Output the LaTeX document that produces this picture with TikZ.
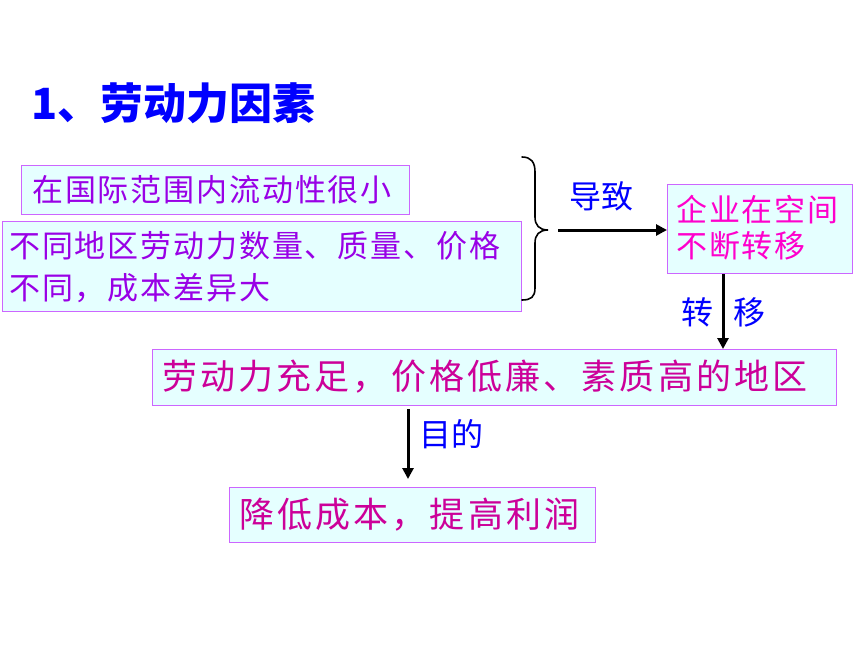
\documentclass[tikz,border=0pt]{standalone}
\usepackage{fontspec}
\usetikzlibrary{arrows.meta,calc}
\newfontfamily\cjk{Noto Sans CJK SC}
\newfontfamily\cjksp[LetterSpace=6]{Noto Sans CJK SC}
\newfontfamily\cjkspb[LetterSpace=9]{Noto Sans CJK SC}
\definecolor{boxfill}{RGB}{229,255,255}
\definecolor{boxline}{RGB}{204,102,255}
\definecolor{txtpurple}{RGB}{153,0,230}
\definecolor{txtpink}{RGB}{255,0,204}
\definecolor{txtmag}{RGB}{204,0,153}
\definecolor{lblblue}{RGB}{0,0,255}
\tikzset{
  box/.style={draw=boxline, fill=boxfill, line width=1pt, rectangle, inner xsep=0pt, inner ysep=0pt, align=left, anchor=north west},
  small/.style={font=\cjksp\fontsize{31pt}{42pt}\selectfont},
  big/.style={font=\cjkspb\fontsize{35pt}{42pt}\selectfont},
  lbl/.style={font=\cjk\fontsize{32pt}{34pt}\selectfont, text=lblblue, inner sep=0pt},
  arr/.style={line width=3pt, -{Triangle[length=11pt,width=11pt]}},
}
\begin{document}
\begin{tikzpicture}[x=1pt,y=-1pt]
\useasboundingbox (0,0) rectangle (860,645);
\fill[white] (0,0) rectangle (860,645);

\node[anchor=west, inner sep=0pt, text=lblblue, font=\cjk\bfseries\fontsize{43pt}{46pt}\selectfont] (title) at (31,103) {1、劳动力因素};

% box 1
\node[box, minimum width=388pt, minimum height=49pt] (b1) at (21,165) {};
\node[small, text=txtpurple, anchor=west, inner sep=0pt] (t1) at (32,189.5) {在国际范围内流动性很小};

% box 2
\node[box, minimum width=519pt, minimum height=90pt] (b2) at (2,221) {};
\node[small, text=txtpurple, anchor=west, inner sep=0pt] (t2a) at (9,246) {不同地区劳动力数量、质量、价格};
\node[small, text=txtpurple, anchor=west, inner sep=0pt] (t2b) at (9,288) {不同，成本差异大};

% brace
\draw[line width=1.6pt, line cap=round] (522,157) .. controls (531,157) and (535,162) .. (535,172)
  -- (535,217) .. controls (535,225) and (539,230) .. (548,230)
  .. controls (539,230) and (535,235) .. (535,243)
  -- (535,288) .. controls (535,297) and (531,300) .. (522,300);
\coordinate (bt) at (558,230);

% box 3
\node[box, minimum width=185pt, minimum height=89pt] (b3) at (667,184) {};
\node[small, text=txtpink, anchor=west, inner sep=0pt] (t3a) at (676,210) {企业在空间};
\node[small, text=txtpink, anchor=west, inner sep=0pt] (t3b) at (676,246) {不断转移};

\draw[arr] (bt) -- (bt -| b3.west);
\node[lbl] (l1) at (601,196) {导致};

% box 4
\node[box, minimum width=684pt, minimum height=56pt] (b4) at (152,349) {};
\node[big, text=txtmag, anchor=west, inner sep=0pt] (t4) at (162,377) {劳动力充足，价格低廉、素质高的地区};

\coordinate (s2) at ([xshift=56pt]b3.south west);
\draw[arr] (s2) -- (s2 |- b4.north);
\node[lbl] (l2) at (697,312) {转};
\node[lbl] (l3) at (749,312) {移};

% box 5
\node[box, minimum width=366pt, minimum height=55pt] (b5) at (229,487) {};
\node[big, text=txtmag, anchor=west, inner sep=0pt] (t5) at (239,514.5) {降低成本，提高利润};

\coordinate (s3) at ([xshift=256pt]b4.south west);
\draw[arr, shorten <=3pt, shorten >=8pt] (s3) -- (s3 |- b5.north);
\node[lbl] (l4) at (451,434) {目的};
\end{tikzpicture}
\end{document}
